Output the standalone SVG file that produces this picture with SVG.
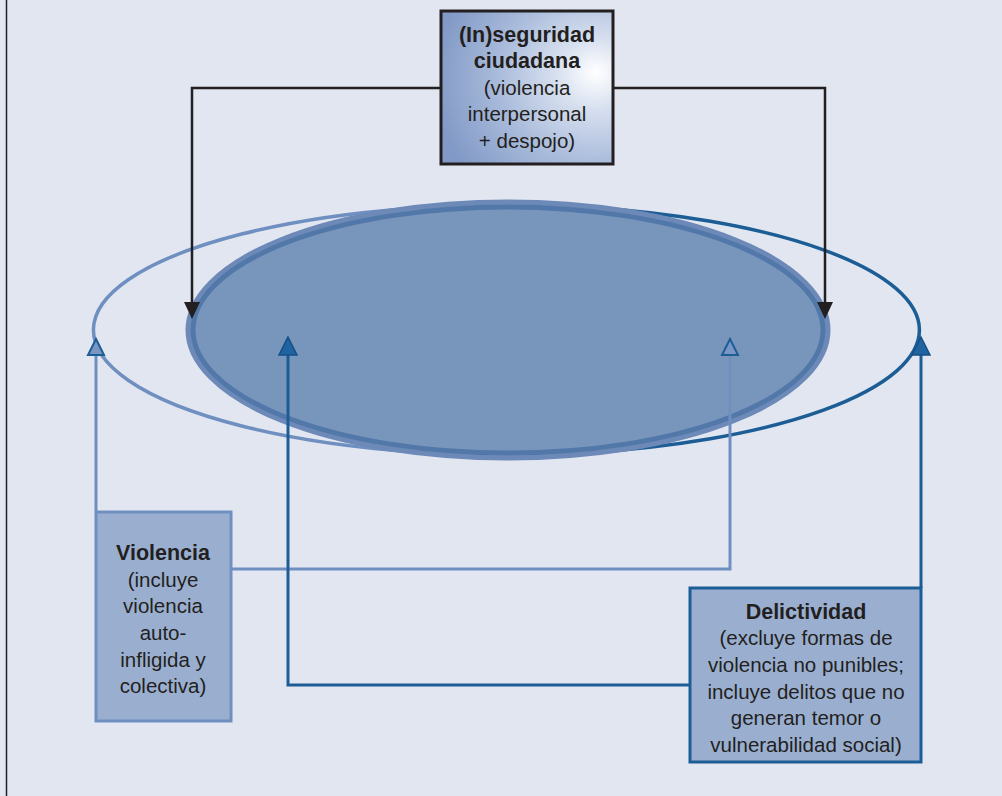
<svg xmlns="http://www.w3.org/2000/svg" width="1002" height="796" viewBox="0 0 1002 796">
<defs>
<radialGradient id="gTop" cx="0.9" cy="0.45" r="0.95" fx="0.9" fy="0.4">
<stop offset="0" stop-color="#ffffff"/>
<stop offset="0.25" stop-color="#d6dfef"/>
<stop offset="0.6" stop-color="#a9bbdb"/>
<stop offset="1" stop-color="#8199c6"/>
</radialGradient>
</defs>
<style>
.txt{font-family:"Liberation Sans",Arial,sans-serif;font-size:20.5px;fill:#231f20;text-anchor:middle}
.b{font-weight:bold;font-size:21.5px}
.lightLine{fill:none;stroke:#6f8fc0;stroke-width:3}
.darkLine{fill:none;stroke:#1c5d96;stroke-width:3}
.blackLine{fill:none;stroke:#231f20;stroke-width:2.5}
.openTri{fill:#7b96c4;stroke:#1c5d96;stroke-width:2}
.fillTri{fill:#1f64a0;stroke:#174f85;stroke-width:1.5}
</style>
<rect x="0" y="0" width="1002" height="796" fill="#e2e6f0"/>
<line x1="6.5" y1="0" x2="6.5" y2="796" stroke="#231f20" stroke-width="1.5"/>

<g id="outer-ellipses">
<path d="M580,207 A413,125 0 1,0 580,453" fill="none" stroke="#6f8fc0" stroke-width="3.5"/>
<path d="M580,207 A413,125 0 0,1 580,453" fill="none" stroke="#1c5d96" stroke-width="3.5"/>
</g>

<g id="inner-ellipse">
<ellipse cx="508" cy="330" rx="320" ry="128" fill="#7896bb" stroke="#6c89b8" stroke-width="5"/>
<ellipse cx="508" cy="330" rx="315" ry="123" fill="none" stroke="#5278aa" stroke-width="5"/>
</g>

<g id="connectors">
<polyline class="blackLine" points="441,88 192,88 192,305"/>
<path d="M184,302 L200,302 L192,319 Z" fill="#231f20"/>
<polyline class="blackLine" points="613,88 825,88 825,305"/>
<path d="M817,302 L833,302 L825,319 Z" fill="#231f20"/>

<polyline class="lightLine" points="96,511 96,355"/>
<path class="openTri" d="M96,339 L104,355 L88,355 Z"/>
<polyline class="lightLine" points="231,569 730,569 730,355"/>
<path class="openTri" d="M730,339 L738,355 L722,355 Z"/>

<polyline class="darkLine" points="690,685 288,685 288,355"/>
<path class="fillTri" d="M288,337 L297,355 L279,355 Z"/>
<polyline class="darkLine" points="921,588 921,355"/>
<path class="fillTri" d="M921,337 L930,355 L912,355 Z"/>
</g>

<g id="node-inseguridad">
<rect x="441" y="11" width="172" height="153" fill="url(#gTop)" stroke="#231f20" stroke-width="3"/>
<text class="txt b" x="527" y="42">(In)seguridad</text>
<text class="txt b" x="527" y="68">ciudadana</text>
<text class="txt" x="527" y="95">(violencia</text>
<text class="txt" x="527" y="121">interpersonal</text>
<text class="txt" x="527" y="148">+ despojo)</text>
</g>

<g id="node-violencia">
<rect x="96" y="512" width="135" height="209" fill="#9aafd0" stroke="#6f8fc0" stroke-width="3"/>
<text class="txt b" x="163" y="560">Violencia</text>
<text class="txt" x="163" y="587">(incluye</text>
<text class="txt" x="163" y="613">violencia</text>
<text class="txt" x="163" y="640">auto-</text>
<text class="txt" x="163" y="667">infligida y</text>
<text class="txt" x="163" y="693">colectiva)</text>
</g>

<g id="node-delictividad">
<rect x="690" y="588" width="231" height="174" fill="#9aafd0" stroke="#1c5d96" stroke-width="3"/>
<text class="txt b" x="806" y="619">Delictividad</text>
<text class="txt" x="806" y="645">(excluye formas de</text>
<text class="txt" x="806" y="672">violencia no punibles;</text>
<text class="txt" x="806" y="699">incluye delitos que no</text>
<text class="txt" x="806" y="725">generan temor o</text>
<text class="txt" x="806" y="752">vulnerabilidad social)</text>
</g>
</svg>
